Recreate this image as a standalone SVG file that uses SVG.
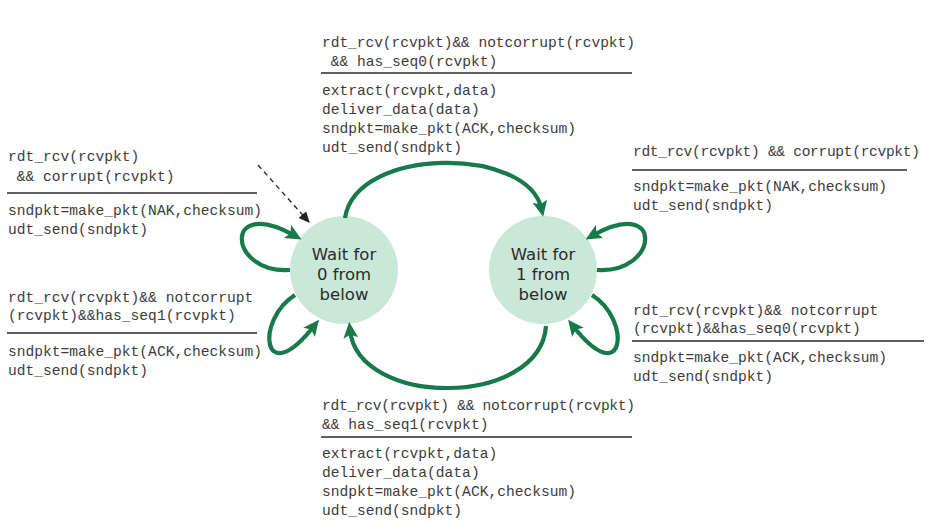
<svg xmlns="http://www.w3.org/2000/svg" width="929" height="524" viewBox="0 0 929 524">
<style>
.code{font-family:"Liberation Mono","DejaVu Sans Mono",monospace;font-size:14.6px;fill:#3c3c3c}
.rule{stroke:#2a2a2a;stroke-width:1.6}
.state{fill:#c9e8d8}
.stext{font-family:"DejaVu Sans","Noto Sans",sans-serif;font-size:16.5px;fill:#2b2b2b;text-anchor:middle}
.arc{fill:none;stroke:#177a4a;stroke-width:4.2}
</style>
<defs>
<marker id="ah" markerUnits="userSpaceOnUse" markerWidth="16" markerHeight="16" viewBox="0 0 14 14" refX="7" refY="7" orient="auto">
<path d="M0,0.5 L14,7 L0,13.5 L3,7 z" fill="#177a4a"/>
</marker>
<marker id="dh" markerUnits="userSpaceOnUse" markerWidth="11" markerHeight="11" viewBox="0 0 11 10" refX="10" refY="5" orient="auto">
<path d="M0,0 L11,5 L0,10 z" fill="#222"/>
</marker>
</defs>
<rect width="929" height="524" fill="#ffffff"/>
<g id="state0">
<circle class="state" cx="344" cy="270" r="54"/>
<text class="stext" x="344" y="260">Wait for</text>
<text class="stext" x="344" y="280">0 from</text>
<text class="stext" x="344" y="300">below</text>
</g>
<g id="state1">
<circle class="state" cx="543" cy="270" r="54"/>
<text class="stext" x="543" y="260">Wait for</text>
<text class="stext" x="543" y="280">1 from</text>
<text class="stext" x="543" y="300">below</text>
</g>
<g id="connectors">
<line x1="258" y1="165" x2="309" y2="222" stroke="#222" stroke-width="1.3" stroke-dasharray="5,4" marker-end="url(#dh)"/>
<path class="arc" d="M345,218 C356,146 528,146 541.5,209" marker-end="url(#ah)"/>
<path class="arc" d="M546,326 C540,408 358,408 350,330" marker-end="url(#ah)"/>
<path class="arc" d="M290,270 C228,274 222,195 294.5,235.5" marker-end="url(#ah)"/>
<path class="arc" d="M295,295 C255,320 262,392 314,326" marker-end="url(#ah)"/>
<path class="arc" d="M597,270 C659,274 665,195 592.5,235.5" marker-end="url(#ah)"/>
<path class="arc" d="M592,295 C632,320 625,392 573,326" marker-end="url(#ah)"/>
</g>
<g id="label-self0-corrupt">
<text class="code" x="8" y="161">rdt_rcv(rcvpkt)</text>
<text class="code" x="16.8" y="181">&amp;&amp; corrupt(rcvpkt)</text>
<line class="rule" x1="7" y1="193" x2="257" y2="193"/>
<text class="code" x="8" y="215">sndpkt=make_pkt(NAK,checksum)</text>
<text class="code" x="8" y="234">udt_send(sndpkt)</text>
</g>
<g id="label-self0-seq1">
<text class="code" x="8" y="302">rdt_rcv(rcvpkt)&amp;&amp; notcorrupt</text>
<text class="code" x="8" y="320">(rcvpkt)&amp;&amp;has_seq1(rcvpkt)</text>
<line class="rule" x1="7" y1="333" x2="257" y2="333"/>
<text class="code" x="8" y="356">sndpkt=make_pkt(ACK,checksum)</text>
<text class="code" x="8" y="375">udt_send(sndpkt)</text>
</g>
<g id="label-0to1">
<text class="code" x="322" y="47" textLength="313" lengthAdjust="spacing">rdt_rcv(rcvpkt)&amp;&amp; notcorrupt(rcvpkt)</text>
<text class="code" x="330.8" y="66">&amp;&amp; has_seq0(rcvpkt)</text>
<line class="rule" x1="321" y1="73" x2="632" y2="73"/>
<text class="code" x="322" y="95">extract(rcvpkt,data)</text>
<text class="code" x="322" y="114">deliver_data(data)</text>
<text class="code" x="322" y="133">sndpkt=make_pkt(ACK,checksum)</text>
<text class="code" x="322" y="152">udt_send(sndpkt)</text>
</g>
<g id="label-self1-corrupt">
<text class="code" x="633" y="156" textLength="287" lengthAdjust="spacing">rdt_rcv(rcvpkt) &amp;&amp; corrupt(rcvpkt)</text>
<line class="rule" x1="632" y1="170" x2="907" y2="170"/>
<text class="code" x="633" y="191">sndpkt=make_pkt(NAK,checksum)</text>
<text class="code" x="633" y="210">udt_send(sndpkt)</text>
</g>
<g id="label-self1-seq0">
<text class="code" x="633" y="315">rdt_rcv(rcvpkt)&amp;&amp; notcorrupt</text>
<text class="code" x="633" y="333">(rcvpkt)&amp;&amp;has_seq0(rcvpkt)</text>
<line class="rule" x1="632" y1="341" x2="924" y2="341"/>
<text class="code" x="633" y="362">sndpkt=make_pkt(ACK,checksum)</text>
<text class="code" x="633" y="381">udt_send(sndpkt)</text>
</g>
<g id="label-1to0">
<text class="code" x="322" y="410" textLength="313" lengthAdjust="spacing">rdt_rcv(rcvpkt) &amp;&amp; notcorrupt(rcvpkt)</text>
<text class="code" x="322" y="429">&amp;&amp; has_seq1(rcvpkt)</text>
<line class="rule" x1="321" y1="437" x2="632" y2="437"/>
<text class="code" x="322" y="458">extract(rcvpkt,data)</text>
<text class="code" x="322" y="477">deliver_data(data)</text>
<text class="code" x="322" y="496">sndpkt=make_pkt(ACK,checksum)</text>
<text class="code" x="322" y="515">udt_send(sndpkt)</text>
</g>
</svg>
